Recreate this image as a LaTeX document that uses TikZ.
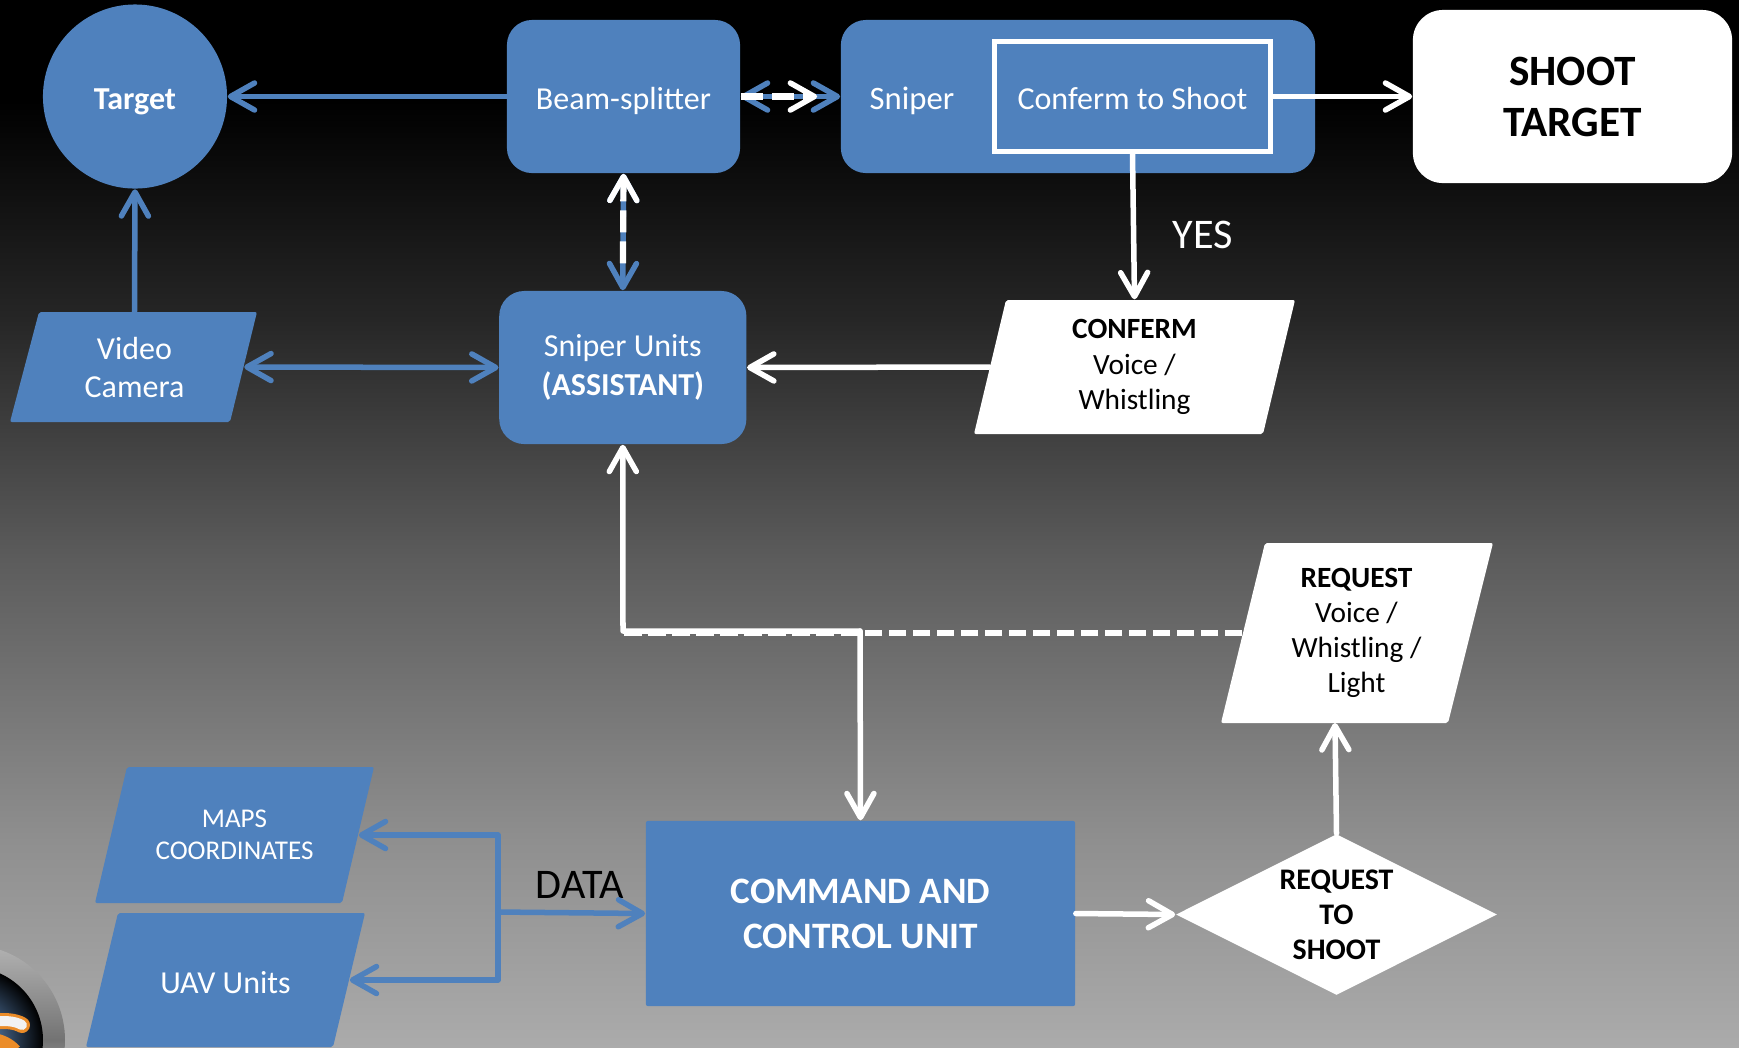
\documentclass[tikz,border=0pt]{standalone}
\usepackage{fontspec}
\setmainfont{Carlito}
\usetikzlibrary{shapes, arrows.meta, positioning, calc}
\definecolor{BoxBlue}{RGB}{79, 129, 189}
\definecolor{LogoBlue}{RGB}{110, 160, 220}
\definecolor{LogoOrange}{RGB}{235, 140, 40}

\pgfdeclareverticalshading{bgShade}{100bp}{
  color(0bp)=(white!67!black); color(25bp)=(white!67!black);
  color(34.9bp)=(white!56!black); color(48.3bp)=(white!36!black);
  color(59.7bp)=(white!15!black); color(70.2bp)=(black); color(100bp)=(black)}

\tikzset{
  lowText/.style={execute at begin node={\rule{0pt}{#1}}},
  blueRound/.style={draw=none, fill=BoxBlue, rounded corners=2.5mm, text=white, font=\fontsize{9.1}{11}\selectfont, align=center, inner sep=0, lowText=8.8pt},
  slantText/.style={inner sep=0, align=center, font=\fontsize{8.35}{10}\selectfont, lowText=7.9pt},
  blueFlow/.style={draw=BoxBlue, line width=0.55mm, line cap=round},
  whiteFlow/.style={draw=white, line width=0.55mm, line cap=round},
  whiteDash/.style={draw=white, line width=0.62mm, line cap=butt, dash pattern=on 1.75mm off 0.65mm},
  >={Straight Barb[round, length=2.4mm, width=2.7mm, line width=0.55mm]}
}

\begin{document}
\begin{tikzpicture}[x=0.01cm, y=-0.01cm]
    \useasboundingbox (0,0) rectangle (1739,1047);
    \clip (0,0) rectangle (1739,1047);
    \shade[shading=bgShade] (0,0) rectangle (1739,1047);

    % Logo in the corner
    \shade[top color=gray!60, bottom color=gray!15, middle color=gray!90!black] (-30,1040) circle (95);
    \shade[inner color=LogoBlue, outer color=black] (-30,1040) circle (73);
    \draw[LogoOrange, line width=1.6mm, line cap=round] (-10,1022) .. controls (5,1020) and (15,1021) .. (22,1025);
    \draw[white!90!gray, line width=1.0mm, line cap=round] (-10,1022) .. controls (5,1020) and (15,1021) .. (22,1025);
    \draw[LogoOrange, line width=1.6mm] (-10,1040) .. controls (0,1042) and (8,1045) .. (14,1052);

    % Top row
    \node[blueRound, circle, minimum size=1.84cm, font=\fontsize{9.1}{11}\selectfont\bfseries, lowText=9.2pt] (target) at (135,96.5) {Target};
    \node[blueRound, minimum width=2.33cm, minimum height=1.53cm] (beamSplitter) at (623.5,96.5) {Beam-splitter};
    \node[blueRound, minimum width=4.74cm, minimum height=1.53cm] (sniperBox) at (1078,96.5) {};
    \node[text=white, font=\fontsize{9.3}{11}\selectfont, inner sep=0, lowText=8.8pt] (sniperLabel) at (912,97) {Sniper};
    \node[draw=white, line width=0.45mm, text=white, font=\fontsize{9.1}{11}\selectfont, minimum width=2.76cm, minimum height=1.10cm, inner sep=0, lowText=7.6pt] (confirmBox) at (1132.5,96.5) {Conferm to Shoot};
    \node[fill=white, rounded corners=3mm, align=center, inner sep=0, minimum width=3.19cm, minimum height=1.73cm, font=\fontsize{12.3}{14.5}\selectfont\bfseries, lowText=9.5pt] (shootTarget) at (1572.5,96.5) {SHOOT\\TARGET};
    \node[text=white, font=\fontsize{12}{14}\selectfont, inner sep=0] (yesLabel) at (1203,235) {YES};

    % Video camera and assistant row
    \fill[BoxBlue, rounded corners=0.2mm] (39,312) -- (257,312) -- (230,422) -- (10,422) -- cycle;
    \node[slantText, text=white, font=\fontsize{9.1}{10.8}\selectfont, minimum width=2.18cm, minimum height=1.10cm, lowText=7.9pt] (videoCamera) at (134.5,367) {Video\\Camera};
    \node[blueRound, minimum width=2.47cm, minimum height=1.53cm] (sniperUnits) at (622.8,367.5) {Sniper Units\\\textbf{(ASSISTANT)}};
    \fill[white, rounded corners=0.2mm] (1006,300) -- (1295,300) -- (1263,434) -- (974,434) -- cycle;
    \node[slantText, minimum width=2.89cm, minimum height=1.34cm] (confermVoice) at (1134.5,367) {\textbf{CONFERM}\\Voice /\\Whistling};

    % Request
    \fill[white, rounded corners=0.2mm] (1265,543) -- (1493,543) -- (1448,723) -- (1221,723) -- cycle;
    \node[slantText, minimum width=2.27cm, minimum height=1.80cm, lowText=8.8pt] (requestVoice) at (1356.5,633) {\textbf{REQUEST}\\Voice /\\Whistling /\\Light};

    % Bottom row
    \fill[BoxBlue, rounded corners=0.2mm] (127,767) -- (374,767) -- (342,903) -- (95,903) -- cycle;
    \node[slantText, text=white, font=\fontsize{7.7}{9.2}\selectfont, minimum width=2.47cm, minimum height=1.36cm, lowText=6.4pt] (mapsCoord) at (234.5,835) {MAPS\\COORDINATES};
    \fill[BoxBlue, rounded corners=0.2mm] (118,913) -- (365,913) -- (333,1047) -- (86,1047) -- cycle;
    \node[slantText, text=white, font=\fontsize{9.1}{11}\selectfont, minimum width=2.47cm, minimum height=1.34cm, lowText=7.2pt] (uavUnits) at (225.5,980) {UAV Units};
    \node[fill=BoxBlue, rounded corners=0.2mm, text=white, align=center, inner sep=0, minimum width=4.29cm, minimum height=1.85cm, font=\fontsize{10.6}{12.8}\selectfont\bfseries] (commandUnit) at (860.5,913.5) {COMMAND AND\\CONTROL UNIT};
    \node[diamond, fill=white, aspect=2, inner sep=0, minimum width=3.21cm, minimum height=1.61cm] (requestShoot) at (1336.5,914.5) {};
    \node[slantText, font=\fontsize{8.5}{10}\selectfont\bfseries, lowText=6.9pt] (requestLabel) at (1336.5,914.5) {REQUEST\\TO\\SHOOT};
    \node[font=\fontsize{12}{14}\selectfont, inner sep=0] (dataLabel) at (580,885) {DATA};

    % Junctions
    \coordinate (dataJoin) at (498,912);
    \coordinate (mapsCorner) at (498,835);
    \coordinate (uavCorner) at (498,980);
    \coordinate (dashJoin) at (623,633);
    \coordinate (lineJoin) at (623,631);
    \coordinate (lineCorner) at (860,631);
    \coordinate (requestFoot) at (1335,723);

    % Blue connectors
    \draw[blueFlow, ->] (beamSplitter.west) -- (target.east);
    \draw[blueFlow, ->] (videoCamera.north) -- (target.south);
    \draw[blueFlow, <->] (videoCamera.east) -- (sniperUnits.west);
    \draw[blueFlow, <->] (beamSplitter.east) -- (sniperBox.west);
    \draw[blueFlow, <->] (beamSplitter.south) -- (sniperUnits.north);
    \draw[blueFlow, <->, line join=round] (mapsCoord.east) -- (mapsCorner) -- (uavCorner) -- (uavUnits.east);
    \draw[blueFlow, ->] (dataJoin) -- (commandUnit.west);

    % White connectors
    \draw[whiteDash, dash pattern=on 2.2mm off 0.9mm, arrows={-Straight Barb[round, length=2.4mm, width=2.7mm, line width=0.55mm]}, shorten >=2.3mm] (beamSplitter.east) -- (sniperBox.west);
    \draw[whiteDash, dash pattern=on 2.2mm off 0.9mm, arrows={Straight Barb[round, length=2.4mm, width=2.7mm, line width=0.55mm]-}, shorten >=2.2mm] (beamSplitter.south) -- (sniperUnits.north);
    \draw[whiteFlow, ->] (confirmBox.east) -- (shootTarget.west);
    \draw[whiteFlow, ->] (confirmBox.south) -- (confermVoice.north);
    \draw[whiteFlow, ->] (confermVoice.west) -- (sniperUnits.east);
    \draw[whiteFlow, ->, line join=round] (lineCorner) -- (lineJoin) -- (sniperUnits.south);
    \draw[whiteFlow, ->] (lineCorner) -- (commandUnit.north);
    \draw[whiteDash] (requestVoice.west) -- (dashJoin);
    \draw[whiteFlow, ->] (requestShoot.north) -- (requestFoot);
    \draw[whiteFlow, ->] (commandUnit.east) -- (requestShoot.west);
\end{tikzpicture}
\end{document}
